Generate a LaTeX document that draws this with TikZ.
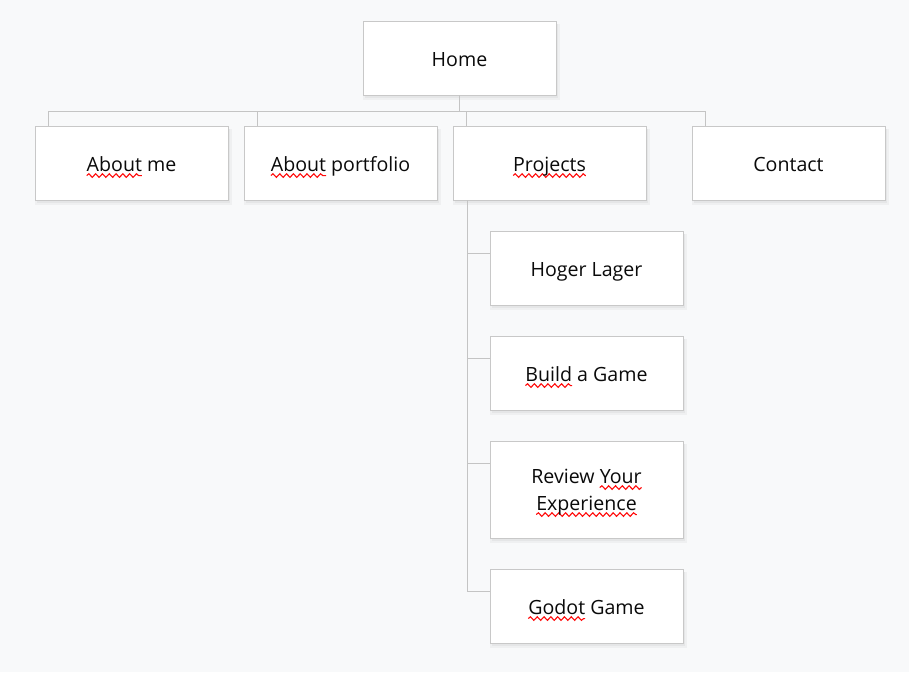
\documentclass[tikz,border=0pt]{standalone}
\usepackage{fontspec}
\setmainfont{Open Sans}
\usetikzlibrary{shadows,calc,decorations.pathmorphing}
\definecolor{bgc}{HTML}{F8F9FA}
\definecolor{boxline}{HTML}{C8C8C8}
\definecolor{conn}{HTML}{C4C4C4}
\definecolor{txt}{HTML}{0A0A0A}
\definecolor{wavered}{HTML}{FF0A0A}
\newlength\sqwidth
\newcommand{\sq}[1]{\settowidth\sqwidth{#1}\rlap{\tikz[overlay,baseline=0pt]\draw[wavered, line width=1.1pt, decorate, decoration={snake, amplitude=1.8pt, segment length=6.8pt}] (0pt,-3.8pt) -- (\sqwidth,-3.8pt);}#1}
\tikzset{
  pagebox/.style={draw=boxline, line width=1pt, fill=white, minimum width=193pt, minimum height=74pt,
    inner sep=0pt, align=center, text=txt, text height=21.5pt, text depth=4pt,
    font=\fontsize{19.6}{27}\selectfont,
    general shadow={fill=black, opacity=0.035, shadow xshift=2pt, shadow yshift=-4pt, shadow scale=1.02},
    general shadow={fill=black, opacity=0.04, shadow xshift=1.5pt, shadow yshift=-2.5pt},
    general shadow={fill=black, opacity=0.04, shadow xshift=0.8pt, shadow yshift=-1.3pt}},
  link/.style={draw=conn, line width=1pt}
}
\begin{document}
\begin{tikzpicture}[x=1pt,y=1pt]
\fill[bgc] (0,0) rectangle (909,-672);
\useasboundingbox (0,0) rectangle (909,-672);
\node[pagebox] (home) at (459.5,-58) {Home};
\node[pagebox] (aboutme) at (131.5,-163) {\sq{About} me};
\node[pagebox] (aboutpf) at (340.5,-163) {\sq{About} portfolio};
\node[pagebox] (projects) at (549.5,-163) {\sq{Projects}};
\node[pagebox] (contact) at (788.5,-163) {Contact};
\node[pagebox] (hoger) at (586.5,-268) {Hoger Lager};
\node[pagebox] (build) at (586.5,-373) {\sq{Build} a Game};
\node[pagebox, minimum height=97pt, text height=46.5pt, text depth=4pt] (review) at (586.5,-489.5) {Review \sq{Your}\\\sq{Experience}};
\node[pagebox] (godot) at (586.5,-606) {\sq{Godot} Game};
\foreach \n in {aboutme,aboutpf,projects,contact}
  \draw[link] (home.south) -- ++(0,-16) -| ([xshift=14pt]\n.north west);
\foreach \n in {hoger,build,review,godot}
  \draw[link] ([xshift=15pt]projects.south west) |- ([yshift=-23pt]\n.north west);
\end{tikzpicture}
\end{document}
